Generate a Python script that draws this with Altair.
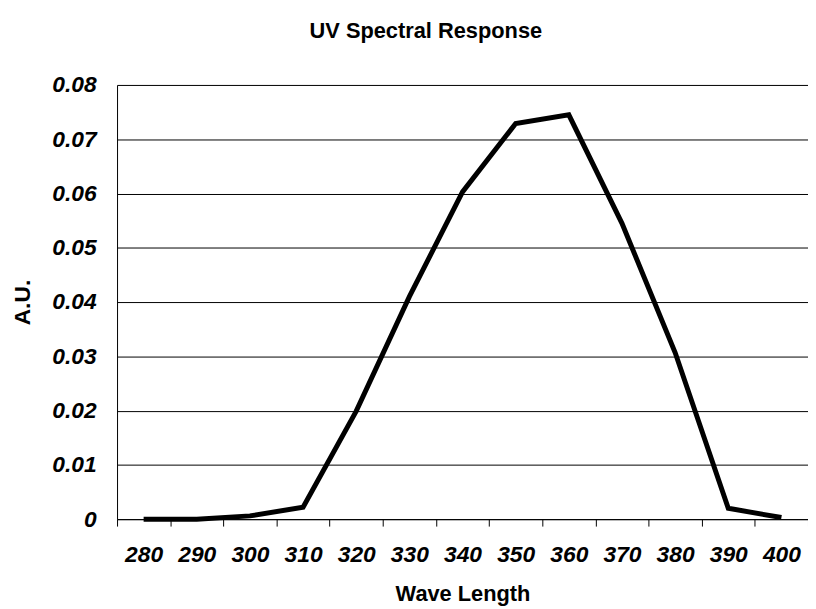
import altair as alt
import pandas as pd

wavelengths = ["280", "290", "300", "310", "320", "330", "340", "350", "360", "370", "380", "390", "400"]
response = [0.0, 0.0, 0.0006, 0.0022, 0.0199, 0.0410, 0.0603, 0.0729, 0.0745, 0.0545, 0.0307, 0.0020, 0.0003]
y_ticks = [0, 0.01, 0.02, 0.03, 0.04, 0.05, 0.06, 0.07, 0.08]

df = pd.DataFrame({"wl": wavelengths, "au": response})

FONT = "Liberation Sans"

chart = alt.Chart(df).mark_line(
    color="black", strokeWidth=5, strokeJoin="miter"
).encode(
    x=alt.X("wl:O", sort=wavelengths,
            scale=alt.Scale(type="band", paddingInner=0, paddingOuter=0),
            axis=alt.Axis(title="Wave Length", labelAngle=0, tickBand="extent",
                          labelFont=FONT, labelFontSize=23, labelFontWeight="bold",
                          labelFontStyle="italic", labelColor="black", labelPadding=18,
                          tickSize=7, tickColor="black", tickWidth=1,
                          domainColor="black", domainWidth=1,
                          titleFont=FONT, titleFontSize=22, titleFontWeight="bold",
                          titleColor="black", titlePadding=17, grid=False)),
    y=alt.Y("au:Q", scale=alt.Scale(domain=[0, 0.08], nice=False),
            axis=alt.Axis(title="A.U.", values=y_ticks,
                          labelExpr="datum.value == 0 ? '0' : format(datum.value, '.2f')",
                          labelFont=FONT, labelFontSize=23, labelFontWeight="bold",
                          labelFontStyle="italic", labelColor="black", labelPadding=21,
                          ticks=False, domainColor="black", domainWidth=1,
                          grid=True, gridColor="black", gridWidth=1, gridOpacity=1,
                          titleFont=FONT, titleFontSize=23, titleFontWeight="bold",
                          titleColor="black", titleBaseline="alphabetic",
                          titleX=-88, titleY=219, titleAngle=-90)),
).properties(
    width=697, height=438,
    title=alt.TitleParams("UV Spectral Response", font=FONT, fontSize=22,
                          fontWeight="bold", color="black", anchor="middle",
                          dx=-37, offset=31),
    autosize=alt.AutoSizeParams(type="none"),
    padding={"left": 110, "top": 75, "right": 0, "bottom": 88},
).configure_view(stroke=None).configure(background="white")

chart.save("out.html", embed_options={"renderer": "svg", "actions": False})
